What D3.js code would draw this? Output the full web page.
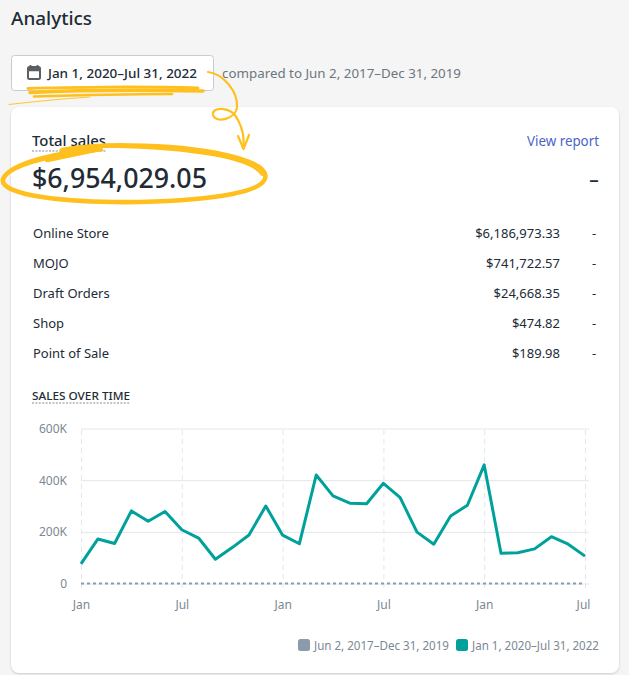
<!DOCTYPE html>
<html><head><meta charset="utf-8">
<script src="https://cdn.jsdelivr.net/npm/d3@7/dist/d3.min.js"></script>
<style>
html,body{margin:0;padding:0;background:#f5f5f5;overflow:hidden}
text{font-family:"Noto Sans","Open Sans",sans-serif}
</style></head><body><svg id="c" width="629" height="675"></svg>
<script>
const months = ["Jan 20","Feb 20","Mar 20","Apr 20","May 20","Jun 20","Jul 20","Aug 20","Sep 20","Oct 20","Nov 20","Dec 20",
"Jan 21","Feb 21","Mar 21","Apr 21","May 21","Jun 21","Jul 21","Aug 21","Sep 21","Oct 21","Nov 21","Dec 21",
"Jan 22","Feb 22","Mar 22","Apr 22","May 22","Jun 22","Jul 22"];
const currentSales = [76,172,155,281,241,279,208,176,94,139,188,300,187,154,420,339,311,309,388,332,199,152,261,303,459,117,119,134,181,152,106];
const previousSales = [0,0,0,0,0,0,0,0,0,0,0,0,0,0,0,0,0,0,0,0,0,0,0,0,0,0,0,0,0,0,0];
const xTicks = ["Jan 20","Jul 20","Jan 21","Jul 21","Jan 22","Jul 22"];
const yTicks = [0,200,400,600];
const channels = ["Online Store","MOJO","Draft Orders","Shop","Point of Sale"];
const channelSales = ["$6,186,973.33","$741,722.57","$24,668.35","$474.82","$189.98"];
const legendLabels = ["Jun 2, 2017–Dec 31, 2019","Jan 1, 2020–Jul 31, 2022"];

const svg = d3.select("#c");
const txt = (x,y,s,size,fill,anchor,weight,len) => {
  const t = svg.append("text").attr("x",x).attr("y",y).attr("font-size",size).attr("fill",fill)
    .attr("text-anchor",anchor||"start").attr("font-weight",weight||400).text(s);
  if(len) t.attr("textLength",len).attr("lengthAdjust","spacingAndGlyphs");
  return t;
};

// page header
txt(11,25,"Analytics",18.5,"#212b36","start",500,81);
svg.append("rect").attr("x",11.5).attr("y",55.5).attr("width",202).attr("height",35).attr("rx",3)
  .attr("fill","#fff").attr("stroke","#c4cdd5");
const cal = svg.append("g").attr("fill","none").attr("stroke","#5c5f62");
cal.append("rect").attr("x",28).attr("y",67).attr("width",12).attr("height",12).attr("rx",1.5).attr("stroke-width",2);
cal.append("line").attr("x1",28).attr("x2",40).attr("y1",69.5).attr("y2",69.5).attr("stroke-width",3.5);
cal.append("path").attr("d","M30.5 65v3M37.5 65v3").attr("stroke-width",1.8);
txt(48,78,"Jan 1, 2020–Jul 31, 2022",13,"#212b36","start",500,149);
txt(222,78,"compared to Jun 2, 2017–Dec 31, 2019",13,"#6d7580","start",400,239);

// card
svg.append("rect").attr("x",11).attr("y",107).attr("width",608).attr("height",566).attr("rx",8)
  .attr("fill","#fff").style("filter","drop-shadow(0 1px 1px rgba(60,60,70,.22))");

txt(32,146,"Total sales",14,"#212b36","start",500,74);
svg.append("line").attr("x1",32).attr("x2",106).attr("y1",151).attr("y2",151)
  .attr("stroke","#a9b3bd").attr("stroke-width",1.3).attr("stroke-dasharray","2 1.4");
txt(599,146,"View report",13.5,"#4a66c8","end",400,72);
txt(32,188,"$6,954,029.05",26.5,"#212b36","start",500,175);
txt(594,186,"–",19,"#212b36","middle",500);

channels.forEach((c,i) => {
  const y = 238 + i*30;
  txt(33,y,c,13,"#212b36");
  txt(560,y,channelSales[i],13,"#212b36","end");
  txt(594,y,"-",13,"#212b36","middle");
});

txt(32,400,"SALES OVER TIME",11.5,"#212b36","start",500,98);
svg.append("line").attr("x1",32).attr("x2",130).attr("y1",403).attr("y2",403)
  .attr("stroke","#a9b3bd").attr("stroke-width",1.3).attr("stroke-dasharray","2 1.4");

// chart
const x = d3.scalePoint().domain(months).range([81,585]);
const y = d3.scaleLinear().domain([0,600]).range([583.5,428.5]);
const grid = "#e3e6ec";

const yAxis = svg.append("g").attr("transform","translate(81,0)")
  .call(d3.axisLeft(y).tickValues(yTicks).tickSize(-508).tickPadding(14)
    .tickFormat(d => d ? d+"K" : "0"));
yAxis.select(".domain").remove();
yAxis.selectAll("line").attr("stroke",grid).attr("stroke-width",1);
yAxis.selectAll("text").attr("font-size",12).attr("fill","#7c8894");

const xAxis = svg.append("g").attr("transform","translate(0,588)")
  .call(d3.axisBottom(x).tickValues(xTicks).tickSize(-160).tickPadding(12)
    .tickFormat(d => d.slice(0,3)));
xAxis.select(".domain").remove();
xAxis.selectAll("line").attr("stroke",grid).attr("stroke-width",1).attr("stroke-dasharray","5 4");
xAxis.selectAll("text").attr("font-size",12).attr("fill","#7c8894");
xAxis.selectAll(".tick text").attr("dx",(d,i)=> i===5 ? -2 : 0);

const line = d3.line().x((d,i)=>x(months[i])).y(d=>y(d));
svg.append("path").datum(previousSales).attr("d",line).attr("fill","none")
  .attr("stroke","#8c9bab").attr("stroke-width",2).attr("stroke-dasharray","3 3");
svg.append("path").datum(currentSales).attr("d",line).attr("fill","none")
  .attr("stroke","#00a19b").attr("stroke-width",3).attr("stroke-linejoin","round");

// legend
const legendColors = ["#8c9bab","#00a19b"];
const legendX = [298,456];
legendLabels.forEach((l,i) => {
  svg.append("rect").attr("x",legendX[i]).attr("y",639).attr("width",12).attr("height",12).attr("rx",2.5)
    .attr("fill",legendColors[i]);
  txt(legendX[i]+16,650,l,12,"#7c8894","start",400,i?127:135);
});

// hand-drawn highlights
const ink = "#ffc01e";
const scribble = [
 ["M28 88.5C70 87 150 86.5 198 88",3],
 ["M30 92.5C80 90 150 90 203 91",3.6],
 ["M34 96.5C80 95 130 94 172 94",2.6],
 ["M9 104.5C40 101 60 99 90 97",0.9]
];
scribble.forEach(([d,w])=>svg.append("path").attr("d",d).attr("fill","none").attr("stroke",ink)
  .attr("stroke-width",w).attr("stroke-linecap","round"));
const loops = [
 ["M208 72C224 74 238 92 237 107C236 119 216 124 213 115C211 107 231 105 238 120C243 130 244 136 243.5 148",2.2],
 ["M238 136L243.5 149L249 135",2.2],
 ["M100 148.5C60 152 10 163 3 179C-1 196 70 203 140 202C215 200 266 192 265.5 176C265 160 205 146 130 145.5C105 145 80 147 62 150",4.6],
 ["M110 146.5C190 148 252 158 262 175",2.4],
 ["M9 173C24 162 60 155 102 150",2.6],
 ["M47 160L100 149",4.4]
];
loops.forEach(([d,w])=>svg.append("path").attr("d",d).attr("fill","none").attr("stroke",ink)
  .attr("stroke-width",w).attr("stroke-linecap","round").attr("stroke-linejoin","round"));
</script></body></html>
